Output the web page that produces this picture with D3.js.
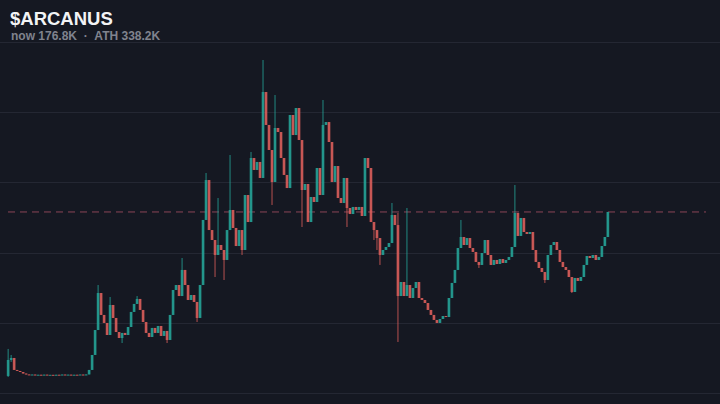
<!DOCTYPE html>
<html lang="en">
<head>
    <meta charset="UTF-8">
    <title>$ARCANUS</title>
    <script src="https://d3js.org/d3.v7.min.js"></script>
    <style>
        body {
            margin: 0;
            padding: 0;
            background: #151822;
        }

        #chart {
            display: block;
        }

        .title {
            font-family: "Liberation Sans", Arial, sans-serif;
            font-weight: bold;
            font-size: 18.5px;
            fill: #f2f3f5;
        }

        .subtitle {
            font-family: "Liberation Sans", Arial, sans-serif;
            font-weight: bold;
            font-size: 12px;
            fill: #80838e;
        }
    </style>
</head>
<body>

    <svg id="chart"></svg>

    <script>
        // Header texts
        const ticker = "$ARCANUS";
        const nowLabel = "now 176.8K";
        const athLabel = "ATH 338.2K";

        // Closing prices (K), one per candle; open is the previous close
        const closes = [
            19.6, 21.7, 9.0, 7.9, 6.8, 5.2, 4.2, 3.6, 4.1, 3.4,
            3.9, 3.3, 4.0, 3.4, 3.8, 3.2, 3.9, 3.4, 4.1, 3.5,
            4.0, 3.3, 3.9, 3.5, 4.1, 3.4, 4.2, 9.0, 24.9, 51.4,
            90.7, 67.4, 58.9, 46.1, 78.0, 64.2, 49.3, 42.9, 48.3, 46.1,
            54.6, 70.6, 79.1, 84.4, 72.7, 59.9, 48.3, 44.0, 53.6, 48.3,
            55.7, 45.1, 50.4, 40.8, 67.4, 93.9, 99.2, 87.5, 115.2, 99.2,
            83.3, 88.6, 81.2, 64.2, 99.2, 168.3, 210.7, 157.6, 147.0, 131.1,
            141.7, 136.4, 125.8, 157.6, 178.9, 159.8, 140.6, 157.6, 136.4, 194.8,
            166.1, 234.1, 221.4, 229.9, 212.9, 304.2, 269.2, 242.6, 208.6, 266.0,
            261.7, 234.1, 216.1, 202.2, 279.8, 258.5, 287.2, 253.2, 200.1, 206.5,
            166.1, 192.7, 187.4, 223.5, 194.8, 269.2, 272.3, 251.1, 208.6, 225.6,
            191.6, 186.3, 212.9, 181.0, 174.6, 182.1, 178.9, 182.1, 172.5, 234.1,
            223.5, 166.1, 157.6, 149.1, 131.1, 136.4, 139.6, 143.8, 173.6, 162.9,
            87.5, 102.4, 87.5, 99.2, 85.4, 96.0, 102.4, 85.4, 83.3, 80.1,
            72.7, 67.4, 62.1, 58.9, 63.1, 66.3, 65.2, 85.4, 101.4, 115.2,
            138.5, 150.2, 141.7, 149.1, 138.5, 134.3, 123.7, 120.5, 133.2, 147.0,
            131.1, 120.5, 125.8, 121.5, 126.8, 122.6, 125.8, 129.0, 139.6, 175.7,
            151.3, 170.4, 155.5, 153.4, 155.5, 136.4, 123.7, 117.3, 113.0, 104.5,
            131.1, 141.7, 144.9, 136.4, 123.7, 118.3, 115.2, 107.7, 91.8, 106.7,
            103.5, 107.7, 120.5, 130.0, 127.9, 131.1, 125.8, 129.0, 140.6, 150.2,
            176.8
        ];

        // Open of the very first candle (K)
        const firstOpen = 2.6;

        // Visible wicks: [candle index, high, low] (K)
        const wicks = [
            [0, 31.3, 1.5], [1, 24.9, 17.5], [2, 21.7, 9.0], [30, 99.2, 51.4],
            [34, 86.5, 46.1], [38, 48.3, 37.6], [43, 87.5, 79.1], [53, 50.4, 37.6],
            [58, 127.9, 87.5], [63, 81.2, 59.9], [66, 218.2, 168.3], [69, 147.0, 107.7],
            [70, 191.6, 131.1], [72, 136.4, 104.5], [74, 237.3, 157.6], [78, 157.6, 131.1],
            [81, 240.5, 166.1], [85, 338.2, 212.9], [88, 242.6, 184.2], [89, 301.0, 208.6],
            [98, 253.2, 160.8], [105, 295.7, 194.8], [113, 212.9, 160.8], [122, 166.1, 147.0],
            [123, 157.6, 136.4], [124, 149.1, 120.5], [128, 186.3, 143.8], [130, 175.7, 38.7],
            [133, 181.0, 87.5], [151, 168.3, 138.5], [157, 123.7, 117.3], [169, 205.4, 139.6],
            [179, 113.0, 101.4], [188, 107.7, 90.7]
        ];

        const width = 720;
        const height = 404;

        const svg = d3.select("#chart")
            .attr("width", width)
            .attr("height", height);

        // Build the candles
        const wickMap = new Map(wicks.map(w => [w[0], w]));
        const candles = closes.map((c, i) => {
            const o = i === 0 ? firstOpen : closes[i - 1];
            const w = wickMap.get(i);
            return {
                i: i,
                open: o,
                close: c,
                high: w ? Math.max(w[1], o, c) : Math.max(o, c),
                low: w ? Math.min(w[2], o, c) : Math.min(o, c)
            };
        });

        // Scales
        const x = d3.scaleBand()
            .domain(candles.map(d => d.i))
            .range([6.5, 6.5 + candles.length * 3])
            .padding(0.1);

        const y = d3.scaleLinear()
            .domain([d3.min(candles, d => d.low), d3.max(candles, d => d.high)])
            .range([377, 60]);

        // Background grid (evenly spaced, no labels)
        const grid = d3.scaleLinear().domain([0, 5]).range([42, 393]);
        svg.append("g")
            .selectAll("line")
            .data(d3.range(6))
            .enter().append("line")
            .attr("x1", 0)
            .attr("x2", width)
            .attr("y1", d => Math.round(grid(d)) + 0.5)
            .attr("y2", d => Math.round(grid(d)) + 0.5)
            .attr("stroke", "#242733")
            .attr("stroke-width", 1);

        // Header
        svg.append("text")
            .attr("class", "title")
            .attr("x", 10)
            .attr("y", 25)
            .text(ticker);

        // non-breaking spaces so the gaps round the dot survive
        svg.append("text")
            .attr("class", "subtitle")
            .attr("x", 11)
            .attr("y", 39.5)
            .text(nowLabel + "\u00a0\u00a0\u00b7\u00a0\u00a0" + athLabel);

        // Dashed line at the current price
        const last = candles[candles.length - 1];
        svg.append("line")
            .attr("x1", 8)
            .attr("x2", 706)
            .attr("y1", y(last.close))
            .attr("y2", y(last.close))
            .attr("stroke", "#8a4456")
            .attr("stroke-width", 1)
            .attr("stroke-dasharray", "7,5");

        const up = "#26a69a";
        const down = "#e0605c";
        const colour = d => d.close >= d.open ? up : down;

        // Wicks
        svg.append("g")
            .selectAll("line")
            .data(candles)
            .enter().append("line")
            .attr("x1", d => x(d.i) + x.bandwidth() / 2)
            .attr("x2", d => x(d.i) + x.bandwidth() / 2)
            .attr("y1", d => y(d.high))
            .attr("y2", d => y(d.low))
            .attr("stroke", colour)
            .attr("stroke-width", 1)
            .style("opacity", 0.8);

        // Bodies
        svg.append("g")
            .selectAll("rect")
            .data(candles)
            .enter().append("rect")
            .attr("x", d => x(d.i))
            .attr("width", x.bandwidth())
            .attr("y", d => y(Math.max(d.open, d.close)))
            .attr("height", d => Math.max(1, Math.abs(y(d.open) - y(d.close))))
            .attr("fill", colour)
            .style("opacity", 0.8);
    </script>

</body>
</html>
